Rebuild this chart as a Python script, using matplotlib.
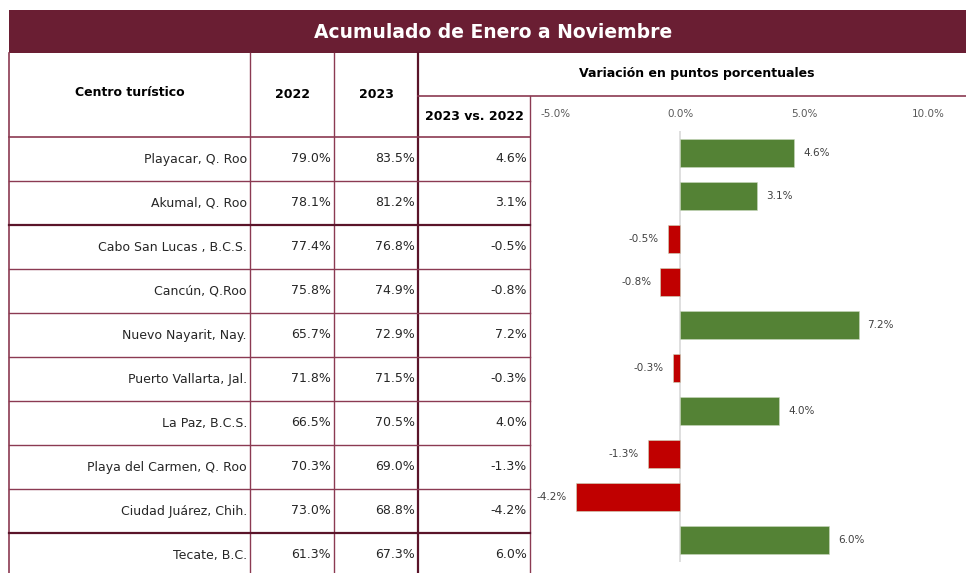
import matplotlib
matplotlib.use("Agg")
import matplotlib.pyplot as plt
from matplotlib.patches import Rectangle

plt.rcParams['font.family'] = ['DejaVu Sans']

# ---- data ----
title = "Acumulado de Enero a Noviembre"
centros = ["Playacar, Q. Roo", "Akumal, Q. Roo", "Cabo San Lucas , B.C.S.", "Cancún, Q.Roo",
           "Nuevo Nayarit, Nay.", "Puerto Vallarta, Jal.", "La Paz, B.C.S.",
           "Playa del Carmen, Q. Roo", "Ciudad Juárez, Chih.", "Tecate, B.C."]
ocup_2022 = [79.0, 78.1, 77.4, 75.8, 65.7, 71.8, 66.5, 70.3, 73.0, 61.3]
ocup_2023 = [83.5, 81.2, 76.8, 74.9, 72.9, 71.5, 70.5, 69.0, 68.8, 67.3]
variacion = [4.6, 3.1, -0.5, -0.8, 7.2, -0.3, 4.0, -1.3, -4.2, 6.0]
x_ticks = [-5.0, 0.0, 5.0, 10.0]
x_tick_labels = ["-5.0%", "0.0%", "5.0%", "10.0%"]

W, H = 966, 573
fig = plt.figure(figsize=(W / 100, H / 100), dpi=100)
fig.patch.set_facecolor("white")

# background axes in pixel coordinates
bg = fig.add_axes([0, 0, 1, 1])
bg.set_xlim(0, W)
bg.set_ylim(H, 0)
bg.axis("off")

maroon = "#6A1E33"
line_c = "#8B3A52"

# title bar
bg.add_patch(Rectangle((9, 10), W - 9, 43, facecolor=maroon, edgecolor="none"))
bg.text(493, 32, title, color="white", fontsize=13.5, fontweight="bold",
        ha="center", va="center")

# headers
hdr_kw = dict(fontsize=9, fontweight="bold", color="black", va="center", ha="center")
bg.text(130, 93, "Centro turístico", **hdr_kw)
bg.text(292, 95, "2022", **hdr_kw)
bg.text(376, 95, "2023", **hdr_kw)
bg.text(697, 73, "Variación en puntos porcentuales", **hdr_kw)
bg.text(474, 116, "2023 vs. 2022", **hdr_kw)

# grid lines
row_top = 137
row_h = 44
bottom = H
bg.plot([9, 9], [53, bottom], color=line_c, lw=1.2)
for x in (250, 334):
    bg.plot([x, x], [53, bottom], color=line_c, lw=1.0)
bg.plot([418, 418], [53, bottom], color="#5A1429", lw=1.6)
bg.plot([530, 530], [96, bottom], color=line_c, lw=1.0)
bg.plot([418, W], [96, 96], color=line_c, lw=1.2)
bg.plot([9, 530], [row_top, row_top], color=line_c, lw=1.2)
for i in range(1, len(centros)):
    y = row_top + i * row_h
    lw = 1.6 if i in (2, 9) else 1.0
    col = "#5A1429" if i in (2, 9) else line_c
    bg.plot([9, 530], [y, y], color=col, lw=lw)

# table text
txt_kw = dict(fontsize=9, color="#262626", va="center", ha="right")
for i, name in enumerate(centros):
    yc = row_top + row_h * i + row_h / 2
    bg.text(247, yc, name, **txt_kw)
    bg.text(331, yc, f"{ocup_2022[i]:.1f}%", **txt_kw)
    bg.text(415, yc, f"{ocup_2023[i]:.1f}%", **txt_kw)
    bg.text(527, yc, f"{variacion[i]:.1f}%", **txt_kw)

# chart axes
px_per = 24.8
x0 = 680
ax_left, ax_right = 530, W
ax_top, ax_bot = 131.5, 561.5
ax = fig.add_axes([ax_left / W, (H - ax_bot) / H, (ax_right - ax_left) / W, (ax_bot - ax_top) / H])
ax.patch.set_alpha(0)
ax.set_xlim((ax_left - x0) / px_per, (ax_right - x0) / px_per)
n = len(centros)
ax.set_ylim(n - 0.5, -0.5)
colors = ["#548235" if v >= 0 else "#C00000" for v in variacion]
ax.barh(range(n), variacion, height=0.67, color=colors, edgecolor="#c9d9bd", linewidth=0.4, zorder=3)
ax.axvline(0, color="#D9D9D9", lw=1.2, zorder=2)
for i, v in enumerate(variacion):
    off = 9 if v >= 0 else -9
    ax.annotate(f"{v:.1f}%", (v, i), xytext=(off, 0), textcoords="offset pixels",
                ha="left" if v >= 0 else "right", va="center", fontsize=7.5, color="#404040")
ax.xaxis.tick_top()
ax.set_xticks(x_ticks)
ax.set_xticklabels(x_tick_labels, fontsize=7.5, color="#595959")
ax.tick_params(axis="x", length=0, pad=9)
ax.set_yticks([])
for s in ax.spines.values():
    s.set_visible(False)

fig.savefig("out.png", dpi=100, facecolor="white")
